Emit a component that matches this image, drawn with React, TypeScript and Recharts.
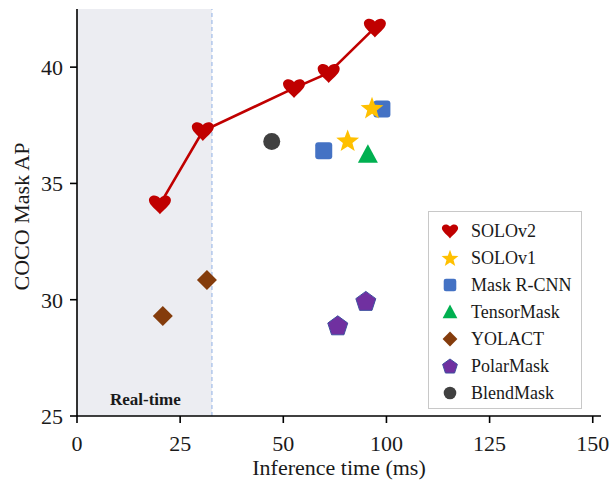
import { ComposedChart, ReferenceArea, ReferenceLine, Scatter, XAxis, YAxis, Legend } from "recharts"

// x values are in axis position units: the ticks sit evenly but are labelled 0, 25, 50, 100, 125, 150
const xTicks = [0, 25, 50, 75, 100, 125]
const xTickLabels = ["0", "25", "50", "100", "125", "150"]
const yTicks = [25, 30, 35, 40]

const solov2 = [
  { x: 20.1, y: 34.1 },
  { x: 30.5, y: 37.25 },
  { x: 52.6, y: 39.1 },
  { x: 61.0, y: 39.75 },
  { x: 72.2, y: 41.7 },
]
const solov1 = [
  { x: 65.6, y: 36.85 },
  { x: 71.5, y: 38.25 },
]
const maskRcnn = [
  { x: 59.8, y: 36.4 },
  { x: 73.9, y: 38.2 },
]
const tensorMask = [{ x: 70.5, y: 36.25 }]
const yolact = [
  { x: 20.8, y: 29.3 },
  { x: 31.5, y: 30.85 },
]
const polarMask = [
  { x: 63.2, y: 28.9 },
  { x: 70.0, y: 29.95 },
]
const blendMask = [{ x: 47.2, y: 36.8 }]

const realTimeEdge = 32.7

const FONT = "'Liberation Serif', 'DejaVu Serif', serif"

const COLORS = {
  solov2: "#c00000",
  solov1: "#ffc000",
  maskRcnn: "#4472c4",
  tensorMask: "#00b050",
  yolact: "#843c0c",
  polarMask: "#7030a0",
  blendMask: "#404040",
}

type ShapeKind = "heart" | "star" | "square" | "triangle" | "diamond" | "pentagon" | "circle"

function polygon(cx: number, cy: number, r: number, n: number, inner?: number) {
  const pts: string[] = []
  const count = inner ? n * 2 : n
  for (let i = 0; i < count; i++) {
    const a = -Math.PI / 2 + (i * Math.PI * 2) / count
    const rr = inner && i % 2 === 1 ? inner : r
    pts.push(`${cx + rr * Math.cos(a)},${cy + rr * Math.sin(a)}`)
  }
  return pts.join(" ")
}

function Marker({ kind, cx, cy, color, scale = 1 }: { kind: ShapeKind; cx: number; cy: number; color: string; scale?: number }) {
  const s = scale
  switch (kind) {
    case "heart": {
      const w = 11 * s
      const d = `M ${cx} ${cy + 10 * s}
        C ${cx - 2 * s} ${cy + 7 * s} ${cx - w} ${cy + 1 * s} ${cx - w} ${cy - 4 * s}
        C ${cx - w} ${cy - 9 * s} ${cx - 4 * s} ${cy - 11 * s} ${cx} ${cy - 6 * s}
        C ${cx + 4 * s} ${cy - 11 * s} ${cx + w} ${cy - 9 * s} ${cx + w} ${cy - 4 * s}
        C ${cx + w} ${cy + 1 * s} ${cx + 2 * s} ${cy + 7 * s} ${cx} ${cy + 10 * s} Z`
      return <path d={d} fill={color} />
    }
    case "star":
      return <polygon points={polygon(cx, cy + 1 * s, 12 * s, 5, 5 * s)} fill={color} />
    case "square":
      return <rect x={cx - 8.5 * s} y={cy - 8.5 * s} width={17 * s} height={17 * s} rx={3 * s} fill={color} />
    case "triangle":
      return <polygon points={`${cx},${cy - 10 * s} ${cx + 10 * s},${cy + 8.5 * s} ${cx - 10 * s},${cy + 8.5 * s}`} fill={color} />
    case "diamond":
      return <polygon points={polygon(cx, cy, 10 * s, 4)} fill={color} />
    case "pentagon":
      return <polygon points={polygon(cx, cy + 1 * s, 10.5 * s, 5)} fill={color} stroke="#3f4f9f" strokeWidth={1} />
    default:
      return <circle cx={cx} cy={cy} r={8.5 * s} fill={color} />
  }
}

const shapeOf = (kind: ShapeKind, color: string) => (props: any) =>
  <Marker kind={kind} cx={props.cx} cy={props.cy} color={color} />

const legendItems: { name: string; kind: ShapeKind; color: string }[] = [
  { name: "SOLOv2", kind: "heart", color: COLORS.solov2 },
  { name: "SOLOv1", kind: "star", color: COLORS.solov1 },
  { name: "Mask R-CNN", kind: "square", color: COLORS.maskRcnn },
  { name: "TensorMask", kind: "triangle", color: COLORS.tensorMask },
  { name: "YOLACT", kind: "diamond", color: COLORS.yolact },
  { name: "PolarMask", kind: "pentagon", color: COLORS.polarMask },
  { name: "BlendMask", kind: "circle", color: COLORS.blendMask },
]

function renderLegend() {
  return (
    <div
      style={{
        border: "1px solid #c8c8c8",
        background: "#fff",
        width: 154,
        boxSizing: "border-box",
        padding: "5px 0 2px 0",
        textAlign: "left",
      }}
    >
      {legendItems.map((item) => (
        <div key={item.name} style={{ display: "flex", alignItems: "center", height: 27 }}>
          <svg width={40} height={24} style={{ flex: "none" }}>
            <Marker kind={item.kind} cx={21} cy={12} color={item.color} scale={0.74} />
          </svg>
          <span style={{ marginLeft: 2, whiteSpace: "nowrap", fontFamily: FONT, fontSize: "18px", lineHeight: "20px", color: "#1a1a1a" }}>
            {item.name}
          </span>
        </div>
      ))}
    </div>
  )
}

const tickStyle = { fontSize: 22, fill: "#1a1a1a", fontFamily: FONT }

export default function App() {
  return (
    <div style={{ position: "fixed", left: 0, top: 0, width: 610, height: 480, background: "#fff", fontFamily: FONT }}>
      <ComposedChart width={610} height={480} margin={{ top: 9, right: 9, bottom: 0, left: 0 }} style={{ fontFamily: FONT }}>
        <XAxis
          type="number"
          dataKey="x"
          domain={[0, 127]}
          ticks={xTicks}
          tickFormatter={(v: number) => xTickLabels[xTicks.indexOf(v)] ?? ""}
          height={64}
          allowDataOverflow
          axisLine={{ stroke: "#000", strokeWidth: 1.6 }}
          tickLine={{ stroke: "#000", strokeWidth: 1.6 }}
          tickSize={7}
          tickMargin={12}
          tick={tickStyle}
          label={{ value: "Inference time (ms)", position: "insideBottom", offset: 5, fontSize: 22, fill: "#1a1a1a", fontFamily: FONT }}
        />
        <YAxis
          type="number"
          dataKey="y"
          domain={[25, 42.5]}
          ticks={yTicks}
          width={77}
          allowDataOverflow
          axisLine={{ stroke: "#000", strokeWidth: 1.6 }}
          tickLine={{ stroke: "#000", strokeWidth: 1.6 }}
          tickSize={7}
          tickMargin={7}
          tick={tickStyle}
          label={{ value: "COCO Mask AP", angle: -90, position: "insideLeft", offset: 21, dy: 4, fontSize: 22, fill: "#1a1a1a", fontFamily: FONT, style: { textAnchor: "middle" } }}
        />
        <ReferenceArea x1={0} x2={realTimeEdge} y1={25} y2={42.5} fill="#ecedf2" fillOpacity={1} stroke="none" />
        <ReferenceLine x={realTimeEdge} stroke="#adc3ea" strokeWidth={1.4} strokeDasharray="4 3" />
        <ReferenceLine
          y={25.75}
          stroke="none"
          label={{ value: "Real-time", position: "insideLeft", dx: 28, fontSize: 17, fontWeight: "bold", fill: "#1a1a1a", fontFamily: FONT }}
        />
        <Scatter name="BlendMask" data={blendMask} shape={shapeOf("circle", COLORS.blendMask)} isAnimationActive={false} />
        <Scatter name="YOLACT" data={yolact} shape={shapeOf("diamond", COLORS.yolact)} isAnimationActive={false} />
        <Scatter name="PolarMask" data={polarMask} shape={shapeOf("pentagon", COLORS.polarMask)} isAnimationActive={false} />
        <Scatter name="Mask R-CNN" data={maskRcnn} shape={shapeOf("square", COLORS.maskRcnn)} isAnimationActive={false} />
        <Scatter name="TensorMask" data={tensorMask} shape={shapeOf("triangle", COLORS.tensorMask)} isAnimationActive={false} />
        <Scatter name="SOLOv1" data={solov1} shape={shapeOf("star", COLORS.solov1)} isAnimationActive={false} />
        <Scatter
          name="SOLOv2"
          data={solov2}
          line={{ stroke: COLORS.solov2, strokeWidth: 2.6 }}
          shape={shapeOf("heart", COLORS.solov2)}
          isAnimationActive={false}
        />
        <Legend
          layout="horizontal"
          align="center"
          verticalAlign="middle"
          content={renderLegend}
          wrapperStyle={{ position: "absolute", left: 428, top: 211, width: 154, bottom: "auto" }}
        />
      </ComposedChart>
    </div>
  )
}
